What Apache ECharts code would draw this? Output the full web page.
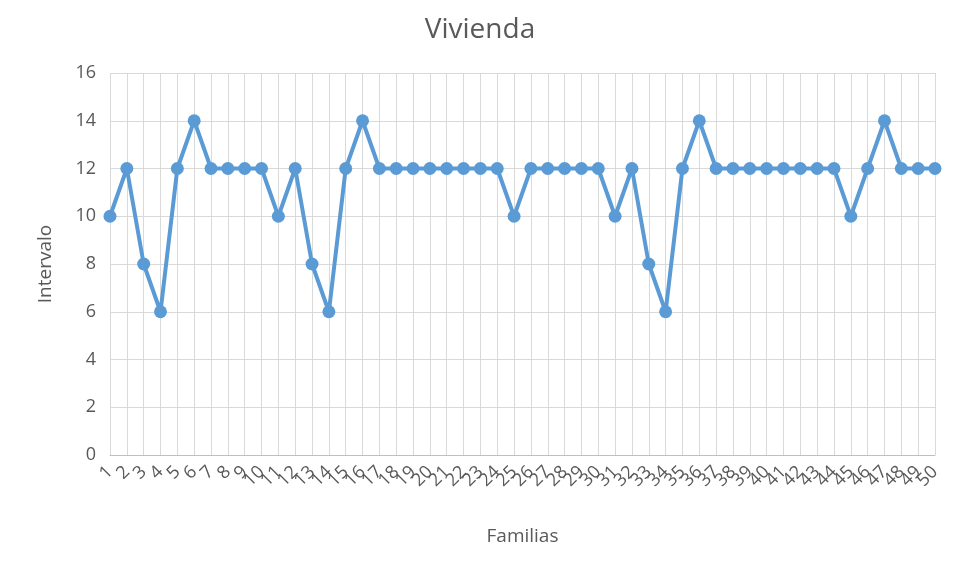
<!DOCTYPE html>
<html>
<head>
<meta charset="utf-8">
<script src="https://cdn.jsdelivr.net/npm/echarts@6/dist/echarts.min.js"></script>
<style>
  html, body { margin: 0; padding: 0; background: #fff; }
  #chart { width: 960px; height: 578px; }
</style>
</head>
<body>
<div id="chart"></div>
<script>
var familias = [];
for (var i = 1; i <= 50; i++) familias.push(String(i));

var intervalo = [
    10, 12, 8, 6, 12, 14, 12, 12, 12, 12,
    10, 12, 8, 6, 12, 14, 12, 12, 12, 12,
    12, 12, 12, 12, 10, 12, 12, 12, 12, 12,
    10, 12, 8, 6, 12, 14, 12, 12, 12, 12,
    12, 12, 12, 12, 10, 12, 14, 12, 12, 12
];

var myChart = echarts.init(document.getElementById('chart'));

var option = {
    backgroundColor: '#fff',
    textStyle: { fontFamily: 'Open Sans' },
    title: {
        text: 'Vivienda',
        left: 'center',
        top: 11,
        textStyle: {
            color: '#595959',
            fontSize: 28,
            fontWeight: 'normal',
            fontFamily: 'Open Sans'
        }
    },
    grid: {
        left: 110,
        right: 25,
        top: 73,
        bottom: 123
    },
    xAxis: {
        type: 'category',
        data: familias,
        boundaryGap: false,
        name: 'Familias',
        nameLocation: 'middle',
        nameGap: 72,
        nameTextStyle: { color: '#595959', fontSize: 19 },
        axisLine: { lineStyle: { color: '#bfbfbf', width: 1 } },
        axisTick: { show: false },
        axisLabel: {
            interval: 0,
            rotate: 45,
            color: '#595959',
            fontSize: 18,
            margin: 14
        },
        splitLine: {
            show: true,
            interval: 0,
            lineStyle: { color: '#d9d9d9', width: 1 }
        }
    },
    yAxis: {
        type: 'value',
        min: 0,
        max: 16,
        interval: 2,
        name: 'Intervalo',
        nameLocation: 'middle',
        nameGap: 55,
        nameTextStyle: { color: '#595959', fontSize: 19 },
        axisLine: { show: false },
        axisTick: { show: false },
        axisLabel: { color: '#595959', fontSize: 18, margin: 14 },
        splitLine: { lineStyle: { color: '#d9d9d9', width: 1 } }
    },
    series: [
        {
            name: 'Intervalo',
            type: 'line',
            data: intervalo,
            symbol: 'circle',
            symbolSize: 13,
            lineStyle: { color: '#5b9bd5', width: 4 },
            itemStyle: { color: '#5b9bd5' },
            animation: false
        }
    ]
};

myChart.setOption(option);
window.addEventListener("resize", function () {
    myChart.resize();
});
</script>
</body>
</html>
